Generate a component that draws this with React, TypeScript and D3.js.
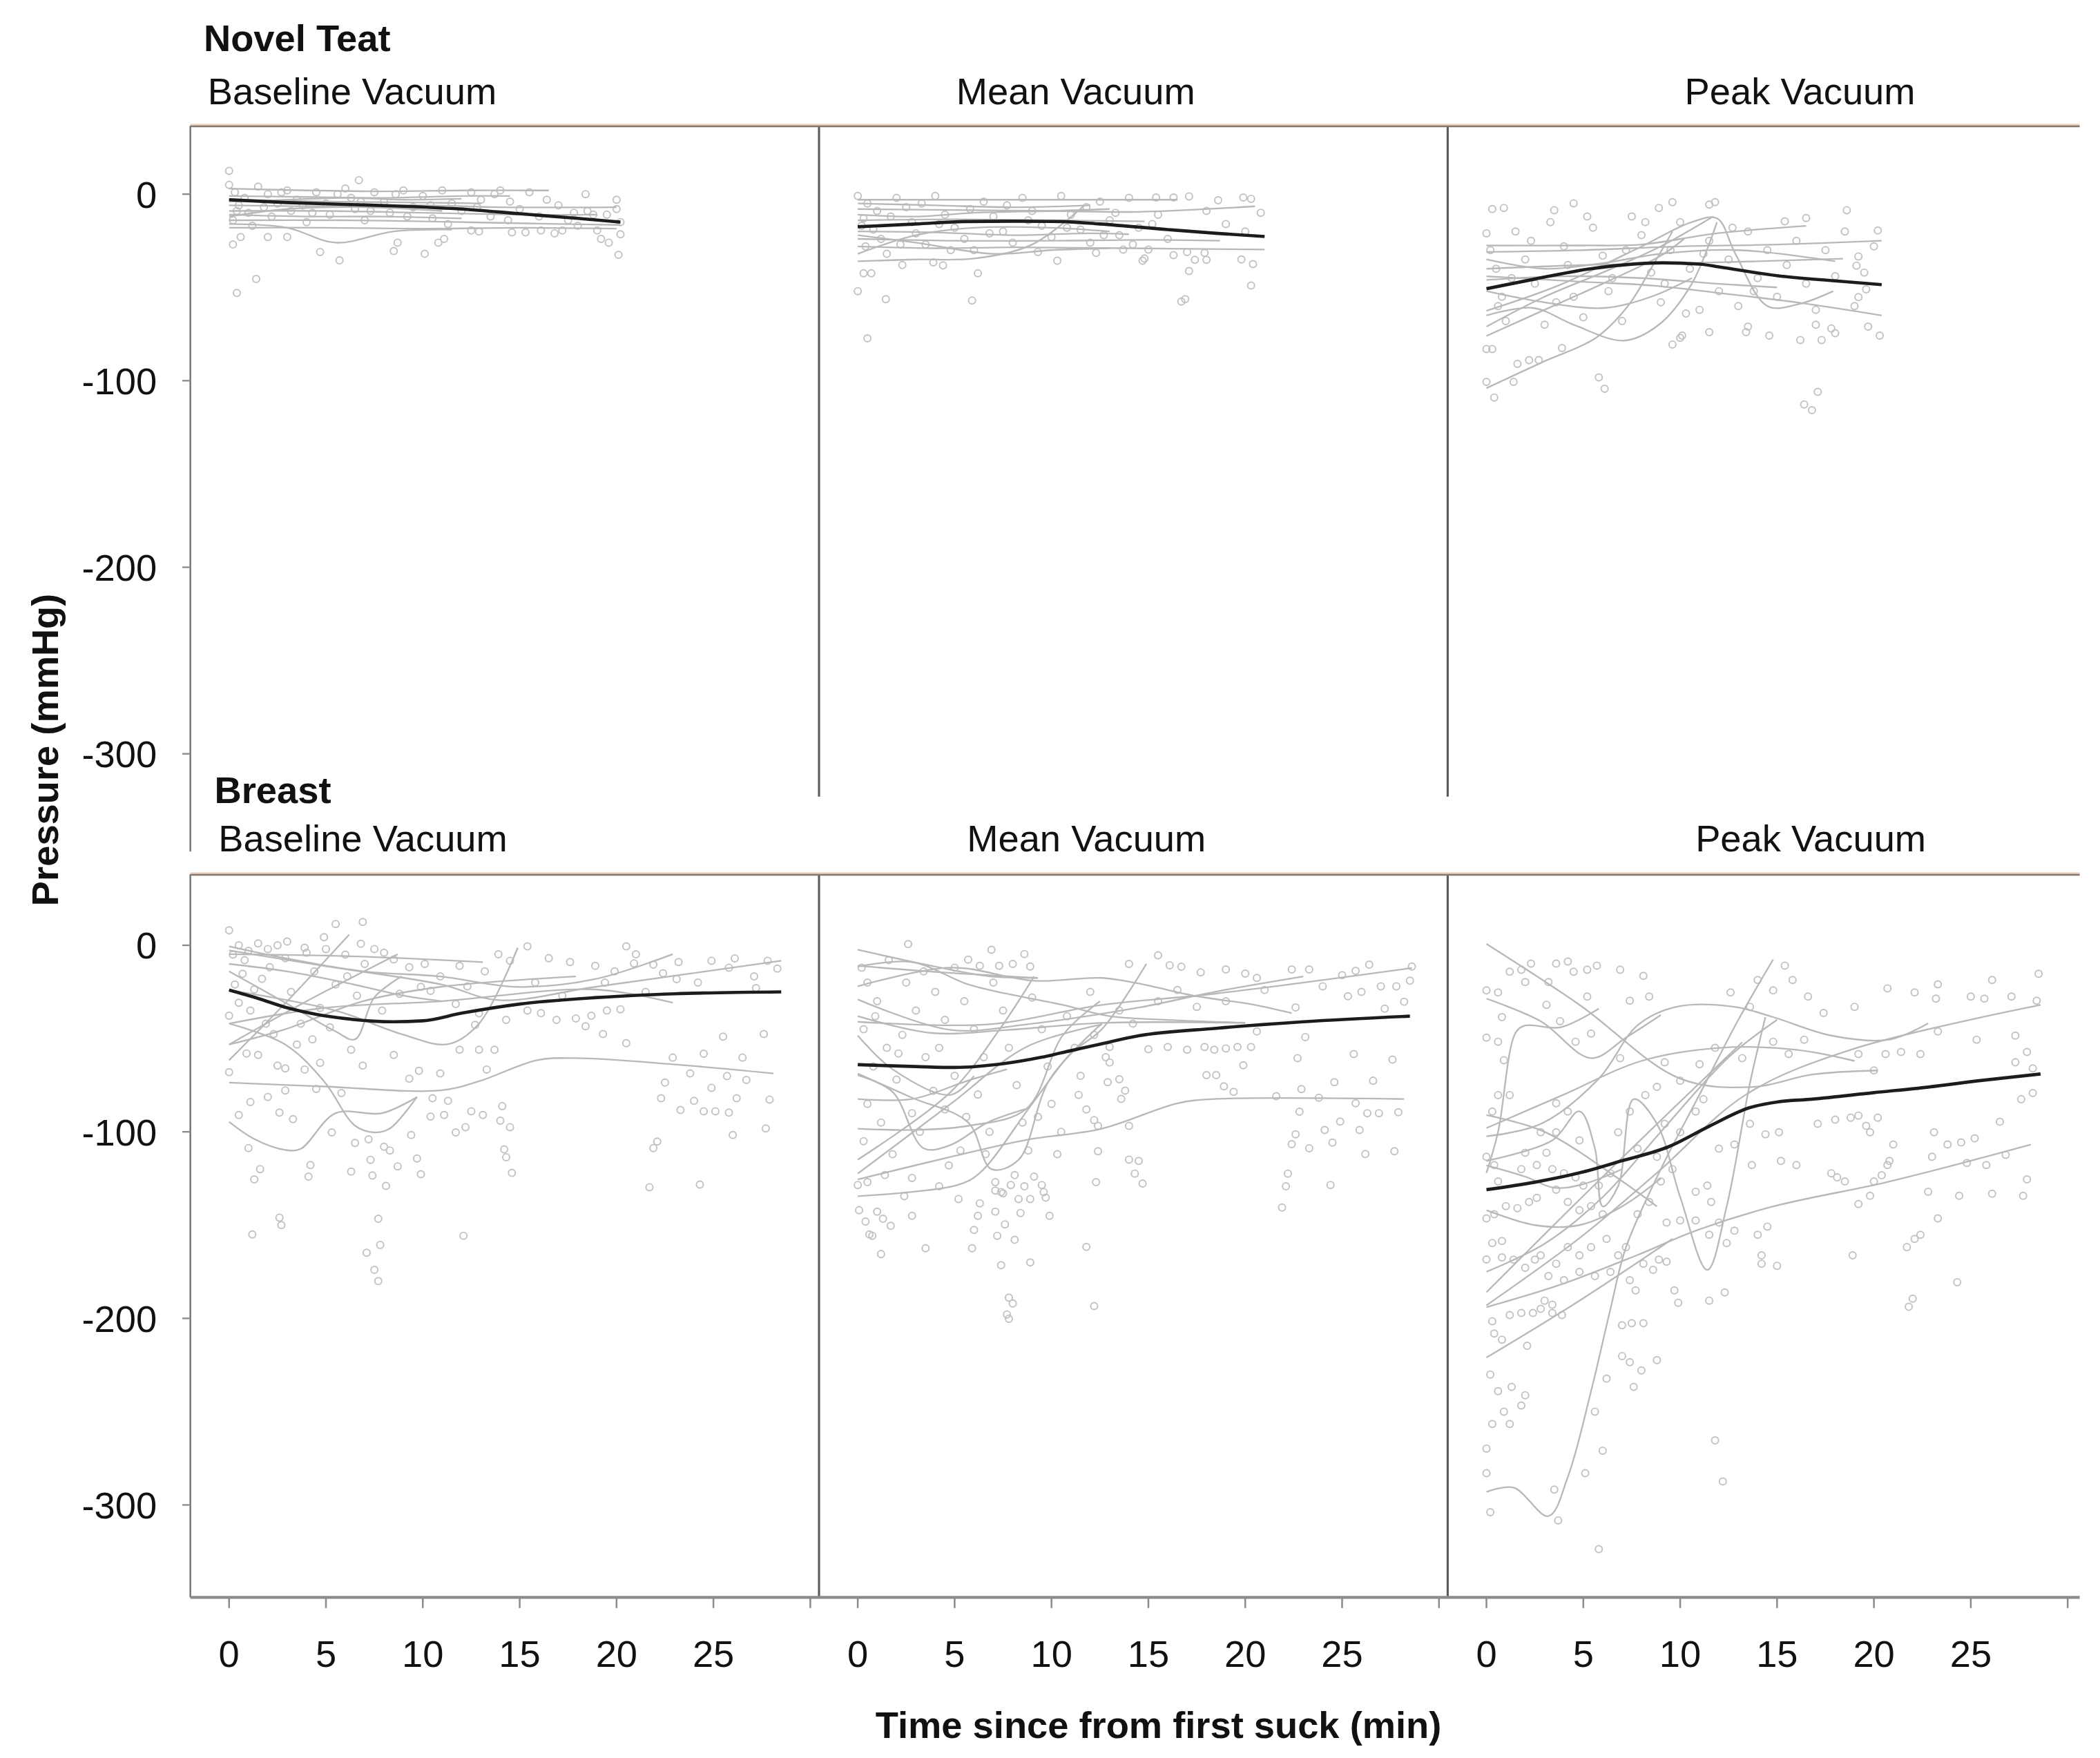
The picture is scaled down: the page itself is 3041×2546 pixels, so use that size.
import * as d3 from "d3";

type Pt = [number, number];

// ---------- Novel Teat : Baseline Vacuum ----------
const ntBaseMean: Pt[] = [[0, -3], [3, -4.5], [6, -5.5], [9, -6.5], [12, -8], [15, -10.5], [18, -13], [20.2, -15]];
const ntBaseLines: Pt[][] = [
  [[0, 3], [4, 2], [8, 1.5], [12, 2], [16.5, 2]],
  [[0, -1], [4, -1.5], [8, -2], [12, -1], [14.5, -1]],
  [[0, -3], [5, -4], [10, -4.5], [13, -5]],
  [[0, -6], [5, -6.5], [10, -6], [14, -7], [20, -7]],
  [[0, -9], [5, -9], [10, -10], [15, -11], [19, -11]],
  [[0, -11], [4, -12], [8, -12], [12, -13]],
  [[0, -14], [6, -14], [12, -15], [17, -16], [20.2, -16.5]],
  [[0, -16], [3, -18], [5.5, -26], [8.5, -20], [11.5, -19]],
  [[0, -18], [5, -18], [10, -18.5], [15, -18], [20, -18.5]],
  [[0, -12], [3, -8], [7, -7], [11, -9]],
  [[0, -4], [3, -3], [6, -2], [9, -3], [12, -2.5]],
];
const ntBasePoints: Pt[] = [
  [0, 12.5], [6.7, 7.5], [0.2, -27], [1.4, -45.5], [0.4, -53], [4.7, -31], [5.7, -35.5], [8.5, -30.5], [8.7, -26],
  [10.1, -32], [10.8, -26], [11.1, -24], [18.4, 0], [20.1, -32.5], [20.2, -21.5], [19.2, -24], [19.6, -26], [20, -3],
  [14.5, -4], [15.3, -20.5], [16.8, -21], [16.1, -19.5], [19, -19.5], [2, -23], [0.6, -23], [3, -23], [12.5, -19.5],
  [12.9, -20], [14.6, -20.5], [17.2, -19.5], [18, -17], [18.8, -11],
  [0, 5], [0.3, 1], [0.8, -2], [0.5, -6], [1, -10], [0.2, -14], [1.2, -17], [1.5, 4], [2, 0], [2.5, -5], [2.2, -12],
  [3, 2], [3.5, -3], [3.2, -9], [4, -15], [4.5, 1], [5, -5], [5.2, -11], [6, 3], [6.3, -2], [6.5, -8], [7, -14],
  [7.5, 1], [8, -4], [8.3, -10], [9, 2], [9.5, -7], [10, -1], [10.5, -13], [11, 2], [11.5, -5], [12, -9], [12.5, 1],
  [13, -3], [13.5, -12], [14, 2], [15, -8], [15.5, 1], [16, -12], [17, -6], [17.5, -14], [18.5, -9], [19.5, -11],
  [20, -8], [20.2, -15], [0.4, -9], [1.8, -7], [2.7, 1], [3.8, -6], [4.3, -10], [5.6, 0], [6.8, -4], [7.3, -9],
  [8.6, 0], [9.2, -12], [10.4, -6], [11.3, -16], [12.8, -7], [13.7, 0], [14.4, -14], [16.4, -3], [17.8, -10],
];

// ---------- Novel Teat : Mean Vacuum ----------
const ntMeanMean: Pt[] = [[0, -17.5], [3, -16], [5.5, -14.7], [8, -14.5], [10.5, -14.7], [12.5, -16], [16, -19], [18.5, -21], [21, -22.7]];
const ntMeanLines: Pt[][] = [
  [[0, -3], [5, -3], [10, -3], [16.5, -3]],
  [[0, -8], [5, -8.5], [10, -9], [14.5, -9.5], [20.5, -6.5]],
  [[0, -14], [5, -13.5], [10, -14], [14.8, -14.6]],
  [[0, -24], [5, -25], [10, -25], [15, -24.5], [18.7, -25]],
  [[0, -28], [4, -29], [8.2, -28.5], [14, -29], [21, -29.7]],
  [[0, -36], [3, -35], [6, -34.5], [9, -27], [11.7, -6]],
  [[0, -32], [3, -22], [6, -18], [10, -18], [13, -20]],
  [[0, -20], [4, -20.5], [8, -22], [12, -21], [14, -21.5]],
  [[0, -11], [3, -12], [6, -10], [10, -9], [13, -8]],
  [[0, -22], [3, -26], [7, -32], [10, -30], [13, -29]],
  [[0, -5], [4, -6], [8, -7], [12, -6]],
];
const ntMeanPoints: Pt[] = [
  [0, -52], [1.45, -56.3], [5.9, -57], [0.5, -77.3], [6.2, -42.4], [0.3, -42.4], [0.7, -42.4], [2.3, -38], [3.9, -36.6],
  [4.4, -38.2], [16.7, -57.6], [16.9, -56.3], [20.3, -49], [17.1, -41.2], [19.8, -35], [20.4, -37.5], [14.7, -35.7],
  [14.8, -34.5], [16.3, -32.7], [17.4, -35.2], [18, -35.2], [10.3, -35.7], [12.3, -31.5], [13.7, -29.7], [15, -29.7],
  [17.9, -31.5], [17, -31], [17.1, -1.2], [18.6, -3.3], [19.9, -1.8], [20.3, -2.5], [15.4, -1.8], [16.3, -1.8],
  [0, -1], [0.5, -5], [1, -9], [0.3, -13], [0.8, -19], [1.2, -24], [0.4, -28], [1.5, -32], [2, -2], [2.5, -7],
  [2.8, -15], [3, -21], [3.5, -27], [4, -1], [4.5, -11], [5, -18], [5.5, -24], [6, -30], [6.5, -4], [7, -12],
  [7.5, -20], [8, -26], [8.5, -2], [9, -9], [9.5, -17], [10, -23], [10.5, -1], [11, -11], [11.5, -19], [12, -26],
  [12.5, -4], [13, -14], [13.5, -22], [14, -2], [14.5, -18], [15.5, -11], [16, -24], [18, -9], [19, -16], [20, -20],
  [20.8, -10], [0.2, -17], [1.7, -12], [2.2, -27], [3.3, -5], [4.2, -16], [4.8, -30], [5.8, -8], [6.8, -21],
  [7.7, -6], [8.8, -14], [9.3, -31], [10.8, -18], [11.8, -7], [12.7, -22], [13.3, -10], [14.2, -27], [15.2, -16],
];

// ---------- Novel Teat : Peak Vacuum ----------
const ntPeakMean: Pt[] = [[0, -50.7], [2.5, -45.5], [5.3, -40.1], [7, -38], [9.1, -36.8], [11, -37.5], [12, -39], [15, -43.7], [18, -46.5], [20.4, -48.5]];
const ntPeakLines: Pt[][] = [
  [[0, -104], [2.9, -90], [5.65, -77], [7.3, -60], [8.6, -38], [9.6, -20]],
  [[0, -65], [2.4, -61], [4.5, -70], [7.1, -78.5], [8.9, -70], [10.6, -48], [11.9, -15]],
  [[0, -27.5], [5, -27.5], [8, -27], [11.9, -21], [16.5, -17]],
  [[0, -31], [5, -30], [10, -28], [15, -27], [20.4, -25]],
  [[0, -44], [5, -47], [8.6, -49], [12, -53], [16, -58], [20.4, -65]],
  [[0, -62.5], [3.7, -49], [7.9, -28.6], [10.6, -15], [11.9, -13], [12.85, -32], [14.5, -60], [16.1, -59], [17.9, -52]],
  [[0, -40], [5, -38], [10, -37], [14, -36], [18.4, -34.6]],
  [[0, -71], [3, -55], [6, -42], [9, -28], [11.7, -12]],
  [[0, -76], [3, -62], [6, -48], [9, -33], [10.2, -24]],
  [[0, -46], [4, -44], [8, -45], [11.9, -48], [15, -50]],
  [[0, -52], [3, -58], [6.1, -61], [8.5, -55], [10.6, -45]],
  [[0, -35], [3, -40], [6, -37], [9, -32], [13, -30], [18, -36]],
];
const ntPeakPoints: Pt[] = [
  [0.4, -109], [1.4, -100.6], [5.8, -98.2], [6.1, -104.3], [17.1, -106], [16.4, -112.7], [16.8, -115.8], [1.6, -91],
  [2.2, -89], [2.7, -89], [0, -100.6], [0, -83], [0.3, -83], [3.9, -82.5], [9.6, -80.6], [10, -77], [10.1, -75.8],
  [11.5, -74], [13.4, -74], [13.5, -71], [14.6, -75.8], [16.2, -78.2], [17.3, -78.2], [20.3, -75.8], [19.7, -71],
  [17, -70], [17.8, -72], [18, -74.5], [18.6, -8.6], [20.2, -19.5], [19.1, -38.3], [19.2, -33.4], [19.6, -51],
  [19.2, -55.2], [16.5, -12.8], [15.4, -14.6], [9.6, -4.3], [8.9, -7.4], [11.5, -5.6], [11.8, -4.3], [4.5, -4.9],
  [0.3, -8], [0.9, -7.4], [3.5, -8.6], [0, -21],
  [0.2, -30], [0.5, -40], [0.8, -55], [1, -68], [1.5, -20], [2, -35], [2.5, -48], [3, -70], [3.3, -15], [4, -28],
  [4.5, -55], [5, -66], [5.5, -18], [6, -33], [6.5, -45], [7, -68], [7.5, -12], [8, -22], [8.5, -42], [9, -58],
  [9.5, -30], [10, -15], [10.5, -40], [11, -62], [11.5, -25], [12, -52], [12.5, -35], [13, -60], [13.5, -20],
  [14, -45], [14.5, -30], [15, -55], [15.5, -38], [16, -25], [16.5, -48], [17, -62], [17.5, -30], [18, -44],
  [18.5, -20], [19, -60], [19.5, -42], [20, -28], [0.6, -60], [1.3, -45], [2.3, -25], [3.6, -58], [4.2, -38],
  [5.2, -12], [6.3, -52], [7.2, -30], [8.2, -15], [9.2, -48], [10.3, -64], [11.2, -32], [12.7, -18], [13.8, -52],
];

// ---------- Breast : Baseline Vacuum ----------
const brBaseMean: Pt[] = [[0, -24], [1.5, -28.5], [3, -33.5], [4.5, -37], [6, -39.3], [8.5, -41], [10, -40.5], [12, -36.4], [15, -31.5], [19, -28], [23, -26], [28.5, -25]];
const brBaseLines: Pt[][] = [
  [[0, -0.6], [2.9, -6.9], [6.9, -13.9], [10.9, -16.7], [14.9, -22.3], [18.9, -18.1], [22.9, -4.8]],
  [[0, -4.8], [4.9, -5.5], [8.9, -6.9], [13.1, -9]],
  [[0, -2.7], [4.9, -11.1], [10.9, -20.9], [13.9, -29.4], [18.9, -22.3], [28.5, -8.3]],
  [[0, -73.6], [4.9, -75.7], [10.9, -77.8], [12.9, -72.9], [15.9, -61.6], [17.9, -60.5], [22.9, -63.8], [28.1, -68.7]],
  [[0, -94.6], [1.3, -103.8], [2.9, -109.7], [3.7, -109.1], [5.5, -90], [7.9, -90], [9.7, -81.3]],
  [[0, -42], [2.9, -53.2], [4.9, -72.9], [6.5, -96.7], [7.5, -100.3], [8.3, -98.2], [9.7, -81.3]],
  [[0, -61.6], [3, -30], [6.2, 5.7]],
  [[0, -53.2], [4, -30], [8.7, -4.8]],
  [[0, -14], [2.9, -30.8], [5.5, -46.2], [6.5, -50.4], [7.5, -27.9], [8.9, -16.7]],
  [[0, -42], [4.9, -33.6], [10.9, -30], [18.9, -23.7], [22.9, -30.8]],
  [[0, -53.2], [2.9, -45], [6.9, -30], [10.9, -22.3], [17.9, -16.7]],
  [[0, -24], [5.5, -35], [8.9, -47.6], [11.3, -53], [12.9, -42], [14.9, -1.3]],
  [[0, -10], [3, -14], [6, -20], [9, -27], [11, -30]],
];
const brBasePoints: Pt[] = [
  [0, 8], [5.5, 11.4], [6.9, 12.5], [4.9, 4.3], [15.4, -0.6], [20.5, -0.6], [21, -4.8], [23.2, -9], [24.9, -8.3],
  [26.1, -7], [27.8, -8.3], [28.3, -12.5], [27.1, -16.7], [23.1, -18.1], [19.3, -47.6], [20.5, -52.5], [25.5, -49],
  [27.6, -47.6], [22.9, -60.2], [24.5, -58.1], [26.5, -60.2], [23.8, -68.7], [25.7, -70.1], [26.7, -72.2],
  [22.5, -73.6], [24.9, -76.4], [22.3, -82], [24, -83.4], [26.2, -82], [27.9, -82.7], [23.3, -88.3], [24.5, -89],
  [25.1, -89], [25.8, -89.7], [27.7, -98.2], [26, -101.7], [22.1, -105.2], [21.9, -108.7], [21.7, -129.7],
  [24.3, -128.3], [14.2, -109.4], [14.3, -113.6], [14.6, -122], [12.1, -155.7], [7.7, -146.6], [7.1, -164.8],
  [7.8, -160.6], [7.5, -174], [7.7, -180], [2.6, -146], [2.7, -150], [1.2, -155], [1.6, -120], [1.3, -125.5],
  [4.2, -117.8], [4.1, -124], [6.3, -121.3], [7.3, -115], [7.4, -123.4], [8.1, -129], [8.7, -118.5], [9.7, -114.3],
  [9.9, -122.7], [8, -108], [8.3, -110], [1, -108.7], [0.5, -91], [3.3, -93.2], [2, -81.3], [1.1, -84], [2.6, -89.7],
  [5.3, -100.3], [6.5, -106], [7.2, -104], [9.4, -101.7], [10.5, -82], [11.3, -83.4], [11.1, -91], [10.4, -91.8],
  [12.5, -89], [13.1, -91], [14, -94], [14.1, -86.2], [14.5, -97.5], [11.7, -100.3], [12.2, -97.5], [13.3, -66.6],
  [13.7, -56], [12.9, -56], [11.9, -56], [10.9, -68.7], [9.8, -67.3], [8.5, -58.8], [9.3, -71.5], [6.9, -64.5],
  [6.3, -56], [4.7, -63], [3.9, -66.6], [2.9, -66], [2.5, -64.5], [0.9, -58], [1.5, -58.8], [0, -68], [4.5, -77],
  [5.8, -79.2], [2.9, -77.8], [17.9, -39.2], [18.7, -37.8], [18.4, -43.4], [16.9, -40], [16.1, -36.4], [20.2, -34.3],
  [19.5, -35], [21.5, -25], [14.3, -40], [15.4, -35], [12.7, -42.7], [12.9, -36.5], [11.7, -31.5], [10.4, -24.4],
  [9.9, -22.3], [9.3, -11.8], [8.5, -7.6], [7.5, -2], [6.8, 0.8], [3.9, -1.3], [2.9, -6.9], [2.1, -11.8], [0.7, -15.3],
  [0.3, -21], [1.3, -23.7], [0.5, -30.8], [1.1, -35], [0, -37.8], [1.9, -42], [2.3, -47.6], [3.7, -42], [4.3, -50.4],
  [3.5, -53.2], [4.7, -33.6], [5.5, -21], [6.1, -16.7], [10.9, -16.7], [11.9, -11], [13.9, -4.8], [14.5, -8.3],
  [16.5, -6.9], [17.6, -9], [18.9, -11], [19.9, -14], [20.9, -9.7], [21.9, -10.4], [0.5, 0], [1, -3], [1.5, 1],
  [2, -2], [2.5, 0], [3, 2], [0.2, -5], [0.8, -8], [4, -4], [5, -2], [6, -5], [7, -10], [8, -4],
  [1.7, -18], [3.2, -25], [4.4, -14], [5.2, -44], [6.6, -27], [7.9, -35], [8.8, -26], [10.1, -10], [12.3, -22],
  [13.2, -14], [15.8, -20], [17.2, -27], [19.4, -20], [22.4, -15], [24.2, -20], [25.8, -12], [27.2, -23],
];

// ---------- Breast : Mean Vacuum ----------
const brMeanMean: Pt[] = [[0, -64], [3, -65], [5, -65.5], [7.5, -63.5], [9.5, -60], [11, -56.5], [12.5, -53], [14.5, -48.5], [18.5, -44.5], [23, -41], [28.5, -38]];
const brMeanLines: Pt[][] = [
  [[0, -2.4], [3.8, -11], [6.7, -16.5], [9.3, -17.5]],
  [[0, -11], [4.3, -14.5], [9.3, -17.5]],
  [[0, -11.4], [2.8, -9], [5.7, -21], [7.7, -26], [10.6, -32], [13, -38], [16, -40], [20, -41.5]],
  [[0, -22], [4.8, -12], [9.1, -19], [12.6, -17.5], [14.5, -20.5], [17.5, -27.3], [20.4, -31.8], [22.4, -36.4]],
  [[0, -41], [6.7, -42.4], [12.6, -32], [18.4, -26], [28.6, -12.2]],
  [[0, -29], [4.8, -45.4], [8.7, -42.4], [14.5, -33.4], [18.4, -25], [23, -16.7]],
  [[0, -38], [3.8, -47], [7.7, -45.4], [12.6, -41.6], [20, -41.6]],
  [[0, -134.5], [5.15, -128.5], [6.3, -122], [9, -85], [11, -58], [12.6, -45], [14.9, -9.9]],
  [[0, -125.5], [4.8, -113.4], [8.7, -104.3], [12.6, -98.3], [16.5, -84.7], [18.4, -82.4], [28.2, -82.4]],
  [[0, -122.4], [4.8, -85], [8.7, -54.5], [12.6, -42.4]],
  [[0, -98.3], [2.8, -99], [5.7, -96.8], [8.7, -87.7], [10.6, -48], [12.5, -30]],
  [[0, -68.8], [2.8, -81.7], [5.7, -95], [6.9, -120], [8.3, -115], [9.9, -72], [12.6, -42]],
  [[0, -69.6], [1.8, -78.6], [3.4, -108.8], [4.8, -107], [6.7, -95], [8.7, -87.7]],
  [[0, -82.4], [2.8, -82.4], [5.7, -72.5], [7.7, -66.5]],
  [[0, -114.9], [4.8, -78.6], [7.3, -45.4], [9.1, -16.7]],
  [[0, -48.4], [1.8, -66.5], [4.8, -80.2], [6, -70]],
];
const brMeanPoints: Pt[] = [
  [2.6, 0.6], [6.9, -2.4], [8.6, -4.7], [5.7, -7.7], [8.9, -11.4], [8, -10], [7.3, -11], [6.3, -11], [15.5, -5.4],
  [14, -10], [16.1, -10.7], [16.7, -11.5], [17.7, -14.5], [19, -13], [20, -15.2], [20.6, -17.5], [22.4, -13],
  [23.3, -13], [25, -16], [25.7, -13.7], [26.4, -10.4], [28.6, -11.4], [28.5, -19], [27.8, -22], [27, -22],
  [27.2, -34], [28.2, -30.3], [25.3, -27.3], [22.6, -33.3], [23.1, -49.2], [25.6, -58.3], [27.6, -61.3],
  [22.7, -60.5], [19.9, -64.3], [18, -69.6], [18.5, -69.6], [18.9, -75.6], [19.4, -78.6], [21.6, -80.9],
  [22.9, -77.1], [23.8, -81.7], [24.6, -73.4], [26.6, -72.6], [25.7, -84.7], [22.8, -89.2], [26.3, -90], [26.9, -90],
  [27.9, -89.5], [24.9, -94.5], [25.9, -99], [24.1, -99], [22.6, -101.3], [24.5, -105.8], [22.4, -106.6],
  [23.3, -108.8], [26.2, -111.9], [27.7, -110.4], [22.2, -122.4], [22.1, -129.2], [24.4, -128.5], [21.9, -140.6],
  [20.6, -46.2], [20.3, -54.5], [19.6, -54.5], [19, -55.3], [18.4, -56], [17.9, -54.5], [17, -56], [16, -54.5],
  [15, -55.7], [13, -54.5], [13, -62.8], [13.5, -71.8], [12.9, -73.4], [13.8, -77.9], [13.6, -82.4], [14, -96.8],
  [12.4, -96.8], [12.2, -93.7], [11.4, -80.2], [12.4, -110.4], [14, -114.9], [14.5, -115.6], [14.3, -122.4],
  [14.7, -127.7], [12.3, -127], [11.8, -161.7], [12.2, -193.4], [7.8, -188.9], [8, -192], [7.7, -197.9],
  [7.8, -200.2], [8.9, -170], [7.4, -171.5], [5.9, -162.4], [3.5, -162.4], [1.2, -165.5], [0.75, -155.7],
  [0.6, -155], [1.7, -150.4], [1.3, -146.6], [0.4, -148.1], [0.07, -142], [1, -142.8], [2.8, -145], [6.2, -145],
  [7.1, -142.8], [7.6, -149.6], [8.1, -157.9], [7.2, -155.7], [6, -152.6], [8.4, -143.5], [9.9, -145], [7.5, -133],
  [8.3, -136], [8.9, -136], [9.7, -135.3], [5.2, -136], [6.3, -138.3], [7.1, -131.5], [7.4, -132.3], [7.9, -128.5],
  [8.6, -129.2], [9.5, -128.5], [9.6, -132.3], [9.1, -124], [8.1, -123.2], [7.1, -127], [4.2, -129.2],
  [2.4, -134.5], [2.8, -124.7], [1.4, -123.2], [0.5, -127], [0, -128.5],
  [0.5, -20], [1, -30], [0.3, -45], [1.5, -55], [0.8, -65], [2, -72], [0.5, -85], [1.2, -95], [0.3, -105],
  [1.8, -112], [2.5, -20], [3, -35], [2.3, -48], [3.5, -60], [2.8, -90], [3.2, -100], [4, -25], [4.5, -40],
  [4.2, -55], [5, -70], [4.5, -88], [5.3, -110], [5.5, -30], [6, -45], [6.5, -60], [6.2, -80], [6.8, -100],
  [7, -20], [7.5, -35], [7.8, -55], [8.2, -75], [8.5, -95], [8.8, -110], [9, -28], [9.5, -45], [9.8, -65],
  [10, -85], [10.5, -100], [10.8, -38], [11.2, -55], [11.5, -70], [12, -25], [12.2, -48], [12.8, -60], [13.5, -35],
  [14.2, -42], [15.5, -30], [16.5, -24], [17.5, -33], [19, -30], [21, -24], [24, -22], [26, -25],
  [0.2, -12], [1.6, -8], [3.4, -14], [5, -12], [0.9, -38], [2.1, -58], [3.9, -78], [5.6, -92], [4.7, -118],
  [6.6, -112], [9.3, -92], [10.3, -112], [11.8, -88],
];

// ---------- Breast : Peak Vacuum ----------
const brPeakMean: Pt[] = [[0, -131], [2.5, -127], [4.8, -122], [7, -115.5], [9.4, -108], [11.5, -97], [13.6, -87], [15, -84], [16.8, -82.5], [20, -79], [22.8, -76], [25.5, -72.5], [28.6, -69]];
const brPeakLines: Pt[][] = [
  [[0, 0.7], [4.8, -31.9], [10, -71.5], [13.8, -75.9], [16.8, -69.3], [20.2, -67.1]],
  [[0, -28.6], [2.8, -40.7], [5.4, -60.5], [7.2, -49.5], [9, -37.4]],
  [[0, -102.4], [2.8, -95.8], [5.8, -71.5], [7.8, -42.9], [9.8, -33], [12.8, -33], [14.8, -38.5], [17.8, -48.4], [20.8, -50.6], [22.8, -41.8]],
  [[0, -293], [1.4, -290.7], [3.2, -306], [4.2, -285], [5.4, -239], [6.4, -195], [7.2, -162], [9, -120], [11, -80], [13, -40], [14.8, -7.6]],
  [[0, -115.6], [3.4, -104.6], [4.8, -89], [5.6, -109], [6, -140], [6.8, -129], [7.6, -82.5], [8.8, -95.7], [10, -135], [11.4, -174], [12.4, -140], [13.6, -74], [14.4, -38.5]],
  [[0, -122], [0.6, -100], [1.5, -47], [2, -43], [3.8, -44], [5.8, -34]],
  [[0, -221], [4.8, -190.5], [9.6, -157.4]],
  [[0, -194], [3.8, -182], [7.8, -166], [10.8, -153], [14.8, -140], [20.8, -126.6], [28.1, -106.8]],
  [[0, -193], [4.8, -157], [8.8, -122], [13.4, -80], [18.8, -56], [28.6, -32]],
  [[0, -186], [6.6, -118], [13.2, -52]],
  [[0, -98], [4, -80], [8, -62], [12, -55], [16, -56], [19, -62]],
  [[0, -118], [2, -124], [3.5, -130], [5, -128], [7, -120]],
  [[0, -142], [2.5, -150], [4.8, -150], [7, -140], [9, -125]],
  [[0, -175], [3, -160], [6, -135], [9, -100], [12.5, -60], [15, -40]],
  [[0, -91], [3, -100], [6.8, -125], [8.8, -140]],
];
const brPeakPoints: Pt[] = [
  [2.3, -9.8], [3.6, -9.8], [4.2, -8.7], [4.5, -14.2], [1.8, -13.1], [1.2, -14.2], [5.2, -13.1], [5.7, -10.9],
  [6.9, -13.1], [8.1, -16.4], [15.4, -10.9], [14, -18.6], [14.8, -24.2], [15.8, -18.6], [16.6, -27.5], [20.7, -23.1],
  [22.1, -25.3], [23.3, -20.9], [25, -27.5], [25.7, -28.6], [26.1, -18.6], [27.1, -27.5], [28.5, -15.3],
  [28.4, -29.7], [23.2, -28.6], [19, -33], [17.4, -36.3], [12.6, -25.3], [13.6, -33], [0, -24.2], [0.6, -25.3],
  [0, -49.5], [0.6, -51.7], [0.8, -38.5], [3.2, -19.7], [2, -19.7], [5.2, -27.5], [7.4, -29.7], [8.4, -27.5],
  [3.1, -31.9], [3.8, -40.7], [4.6, -51.7], [5.4, -47.3], [6.9, -60.5], [9.2, -62.7], [10, -72.6], [11, -63.8],
  [11.8, -55], [13.2, -60.5], [14.8, -51.7], [15.6, -58.3], [16.4, -50.6], [19.2, -58.3], [20.6, -58.3],
  [21.4, -57.2], [20, -67.1], [22.4, -58.3], [23.3, -46.2], [25.3, -50.6], [27.3, -48.4], [27.9, -57.2], [28.2, -66],
  [27.3, -62.7], [26.5, -94.6], [27.6, -82.5], [28.2, -79.2], [23.1, -100.2], [23.8, -106.8], [24.5, -105.7],
  [25.2, -103.5], [23, -113.4], [24.8, -116.7], [25.8, -117.8], [26.8, -112.3], [27.9, -125.5], [27.7, -134.3],
  [26.1, -133.2], [24.4, -134.3], [22.8, -132.1], [21, -106.8], [20.7, -117.8], [20, -126.6], [20.4, -123.3],
  [19.8, -134.3], [19.2, -138.7], [21.7, -161.8], [22.1, -157.4], [22.4, -155.2], [21.8, -193.8], [22, -189.4],
  [24.3, -180.6], [18.9, -166.2], [23.3, -146.4], [18.1, -124.4], [18.5, -126.6], [17.8, -122.2], [17.1, -95.7],
  [18, -93.5], [18.8, -92.4], [19.2, -91.3], [20.2, -92.4], [19.6, -96.8], [19.8, -100.2], [20.8, -115.6],
  [16, -117.8], [15.2, -115.6], [13.7, -117.8], [15.1, -100.2], [14.4, -101.3], [15, -171.8], [14.2, -166.2],
  [14.2, -170.7], [14.5, -150.8], [14, -155.2], [12.4, -159.6], [12.8, -153], [12, -148.6], [11.5, -155.2],
  [10.8, -147.5], [11.4, -128.8], [11.6, -137.6], [10.8, -132.1], [10, -147.5], [9.3, -148.6], [9.3, -169.6],
  [8.9, -168.5], [8.6, -174], [9.7, -185], [9.9, -191.6], [11.5, -190.5], [12.3, -186.1], [8.1, -170.7],
  [7.4, -179.5], [7.7, -185], [7, -203.7], [7.5, -202.6], [8.1, -202.6], [8.8, -222.4], [8, -227.9], [7.4, -223.5],
  [7, -220.2], [7.6, -236.7], [6.2, -232.3], [5.6, -250], [6, -270.9], [5.1, -283], [3.5, -291.8], [3.7, -308.3],
  [5.8, -323.7], [11.8, -265.4], [12.2, -287.4], [0.2, -230.1], [0.6, -239], [1.3, -236.7], [2, -241.2],
  [1.8, -246.7], [0.9, -250], [1.2, -256.6], [0.3, -256.6], [0, -269.8], [0, -283], [0.2, -303.9], [0.4, -208.1],
  [0.8, -211.4], [2.1, -214.7], [0.3, -201.5], [1.2, -198.2], [1.8, -197.1], [2.4, -197.1], [2.8, -194.9],
  [3.4, -197.1], [3.9, -198.2], [3, -190.5], [3.4, -192.7], [2.8, -166.2], [2.5, -168.5], [2, -172.9], [1.4, -168.5],
  [0.8, -167.3], [0, -168.4], [0.3, -159.6], [0.8, -158.5], [0, -146.4], [0.4, -144.2], [1, -139.8], [1.6, -140.9],
  [2.2, -137.6], [2.6, -135.4], [0.6, -126.6], [0, -113.4], [0.3, -89.1], [0.6, -80.3], [1.2, -80.3], [0.9, -61.6],
  [0.4, -117.8], [3.6, -84.7], [4.2, -89.1], [4.8, -104.6], [3.6, -100.2], [3.1, -111.2], [2, -111.2],
  [2.8, -100.2], [3.6, -131], [4.2, -137.6], [4.8, -142], [5.4, -139.8], [6, -144.2], [6.2, -157.4], [5.4, -161.8],
  [4.8, -166.2], [4.2, -161.8], [3.6, -170.7], [3.2, -177.3], [4, -179.5], [4.8, -175.1], [5.6, -177.3],
  [6.4, -175.1], [6.8, -166.2], [7.2, -161.8], [7.8, -144.2], [8.4, -137.6], [9, -126.6], [9.6, -120], [8.8, -113.4],
  [7.8, -109], [6.8, -100.2], [7.4, -89.1], [8.2, -80.3], [8.8, -75.9], [9.2, -95.7], [10, -100.2], [10.8, -89.1],
  [11.2, -82.5], [12, -109], [12.8, -106.8], [13.6, -95.7], [6.4, -122.2], [5.8, -128.8], [5, -128.8], [4.6, -124.4],
  [4, -122.2], [3.4, -120], [2.6, -117.8], [1.8, -120],
];

// ---------- labels ----------
const rowTitles = ["Novel Teat", "Breast"];
const colTitles = ["Baseline Vacuum", "Mean Vacuum", "Peak Vacuum"];
const xTicks = [0, 5, 10, 15, 20, 25, 30];
const xTickLabels = ["0", "5", "10", "15", "20", "25", ""];
const yTicks = [0, -100, -200, -300];
const xTitle = "Time since from first suck (min)";
const yTitle = "Pressure (mmHg)";

// ---------- layout (viewBox units) ----------
const VW = 1568;
const VH = 1313;
const colX = [142, 611.5, 1081];
const panelW = 469.5;
const rowTop = [94, 653];
const rowZero = [145, 706];
const rowDataBottom = [596, 1193];
const yPerUnit = 418 / 300;
const headerX = [155, 714, 1258];
const headerShift = [0, 8];
const FONT = "'Liberation Sans', Arial, Helvetica, sans-serif";

const panels = [
  { row: 0, col: 0, points: ntBasePoints, lines: ntBaseLines, mean: ntBaseMean },
  { row: 0, col: 1, points: ntMeanPoints, lines: ntMeanLines, mean: ntMeanMean },
  { row: 0, col: 2, points: ntPeakPoints, lines: ntPeakLines, mean: ntPeakMean },
  { row: 1, col: 0, points: brBasePoints, lines: brBaseLines, mean: brBaseMean },
  { row: 1, col: 1, points: brMeanPoints, lines: brMeanLines, mean: brMeanMean },
  { row: 1, col: 2, points: brPeakPoints, lines: brPeakLines, mean: brPeakMean },
];

const xScale = (col: number) =>
  d3.scaleLinear().domain([-2, 30.45]).range([colX[col], colX[col] + panelW]);
const yScale = (row: number) =>
  d3.scaleLinear().domain([0, -300]).range([rowZero[row], rowZero[row] + 300 * yPerUnit]);

const App = () => {
  const renderPanel = (p: (typeof panels)[number], i: number) => {
    const x = xScale(p.col);
    const y = yScale(p.row);
    const thin = d3
      .line<Pt>()
      .x((d) => x(d[0]))
      .y((d) => y(d[1]))
      .curve(d3.curveCatmullRom.alpha(0.5));
    const thick = d3
      .line<Pt>()
      .x((d) => x(d[0]))
      .y((d) => y(d[1]))
      .curve(d3.curveMonotoneX);
    const top = rowTop[p.row];
    const bottom = rowDataBottom[p.row];
    return (
      <g key={i}>
        <clipPath id={`clip-${i}`}>
          <rect x={colX[p.col]} y={top} width={panelW} height={bottom - top} />
        </clipPath>
        <g clipPath={`url(#clip-${i})`}>
          {p.points.map((d, j) => (
            <circle key={j} cx={x(d[0])} cy={y(d[1])} r={2.6} fill="none" stroke="#c2c2c2" strokeWidth={1} />
          ))}
          {p.lines.map((l, j) => (
            <path key={j} d={thin(l) || ""} fill="none" stroke="#b8b8b8" strokeWidth={1.2} />
          ))}
          <path d={thick(p.mean) || ""} fill="none" stroke="#1c1c1c" strokeWidth={2.4} />
        </g>
      </g>
    );
  };

  const yAxis = (row: number) => {
    const y = yScale(row);
    return (
      <g key={`ya-${row}`}>
        {yTicks.map((t) => (
          <g key={t}>
            <line x1={136} x2={142} y1={y(t)} y2={y(t)} stroke="#8c8c8c" strokeWidth={1.2} />
            <text x={117} y={y(t) + 10} textAnchor="end" fontSize={28} fontFamily={FONT} fill="#111">
              {t}
            </text>
          </g>
        ))}
      </g>
    );
  };

  return (
    <div style={{ position: "absolute", left: 0, top: 0, background: "#fff" }}>
      <svg width={3041} height={2546} viewBox={`0 0 ${VW} ${VH}`} style={{ display: "block" }}>
        <rect x={0} y={0} width={VW} height={VH} fill="#fff" />

        {/* top row */}
        {panels.filter((p) => p.row === 0).map((p) => renderPanel(p, panels.indexOf(p)))}
        <line x1={142} x2={142} y1={94} y2={636} stroke="#6e6e6e" strokeWidth={1.2} />
        {[1, 2].map((c) => (
          <line key={c} x1={colX[c]} x2={colX[c]} y1={94} y2={595} stroke="#5a5a5a" strokeWidth={1.6} />
        ))}
        <line x1={142} x2={1553} y1={93} y2={93} stroke="#ecd3c2" strokeWidth={1} />
        <line x1={142} x2={1553} y1={94.3} y2={94.3} stroke="#8a776c" strokeWidth={1.4} />
        {yAxis(0)}

        {/* header of the bottom row hides the end of the top row */}
        <rect x={143} y={596} width={VW - 143} height={56} fill="#fff" />

        {/* bottom row */}
        {panels.filter((p) => p.row === 1).map((p) => renderPanel(p, panels.indexOf(p)))}
        <line x1={142} x2={142} y1={653} y2={1193} stroke="#6e6e6e" strokeWidth={1.2} />
        {[1, 2].map((c) => (
          <line key={c} x1={colX[c]} x2={colX[c]} y1={653} y2={1193} stroke="#5a5a5a" strokeWidth={1.6} />
        ))}
        <line x1={142} x2={1553} y1={652} y2={652} stroke="#ecd3c2" strokeWidth={1} />
        <line x1={142} x2={1553} y1={653.3} y2={653.3} stroke="#8a776c" strokeWidth={1.4} />
        <line x1={142} x2={1553} y1={1193} y2={1193} stroke="#8c8c8c" strokeWidth={2.2} />
        {yAxis(1)}

        {/* x axis ticks */}
        {[0, 1, 2].map((c) => {
          const x = xScale(c);
          return (
            <g key={`xa-${c}`}>
              {xTicks.map((t, j) => (
                <g key={t}>
                  <line x1={x(t)} x2={x(t)} y1={1193} y2={1201} stroke="#8c8c8c" strokeWidth={1.3} />
                  <text x={x(t)} y={1245} textAnchor="middle" fontSize={28} fontFamily={FONT} fill="#111">
                    {xTickLabels[j]}
                  </text>
                </g>
              ))}
            </g>
          );
        })}

        {/* row and column headers */}
        {rowTitles.map((r, ri) => (
          <g key={r}>
            <text
              x={headerX[0] - 3 + headerShift[ri]}
              y={ri === 0 ? 38 : 600}
              fontSize={28}
              fontWeight="bold"
              fontFamily={FONT}
              fill="#111"
            >
              {r}
            </text>
            {colTitles.map((c, ci) => (
              <text
                key={c}
                x={headerX[ci] + headerShift[ri]}
                y={ri === 0 ? 78 : 636}
                fontSize={28}
                fontFamily={FONT}
                fill="#111"
              >
                {c}
              </text>
            ))}
          </g>
        ))}

        {/* axis titles */}
        <text x={865} y={1298} textAnchor="middle" fontSize={28} fontWeight="bold" fontFamily={FONT} fill="#111">
          {xTitle}
        </text>
        <text
          transform="translate(43,560) rotate(-90)"
          textAnchor="middle"
          fontSize={28}
          fontWeight="bold"
          fontFamily={FONT}
          fill="#111"
        >
          {yTitle}
        </text>
      </svg>
    </div>
  );
};

export default App;
